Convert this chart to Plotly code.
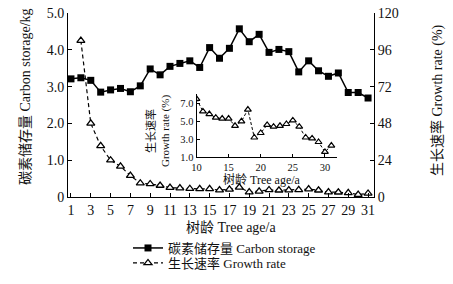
import plotly.graph_objects as go

ages = list(range(1, 32))
carbon_storage = [3.21, 3.24, 3.17, 2.85, 2.91, 2.95, 2.86, 3.02, 3.48, 3.32,
                  3.55, 3.63, 3.70, 3.52, 4.06, 3.77, 4.04, 4.57, 4.22, 4.42,
                  3.93, 4.01, 3.95, 3.40, 3.70, 3.43, 3.28, 3.37, 2.84, 2.84, 2.69]
growth_ages = list(range(2, 32))
growth_rate = [102, 48, 33.3, 24, 20, 14, 9, 8.5, 7.5, 6.1,
               5.8, 5.4, 5.3, 5.3, 4.5, 5.0, 6.3, 3.2, 3.7, 4.6,
               4.4, 4.5, 4.7, 5.1, 4.4, 3.2, 3.1, 2.7, 1.6, 2.3]
inset_start = 10
inset_ages = [a for a in growth_ages if a >= inset_start]
inset_rate = [r for a, r in zip(growth_ages, growth_rate) if a >= inset_start]

x_ticks = list(range(1, 32, 2))
y_left_ticks = [0, 1, 2, 3, 4, 5]
y_left_text = ["0", "1.0", "2.0", "3.0", "4.0", "5.0"]
y_right_ticks = [0, 24, 48, 72, 96, 120]
inset_x_ticks = [10, 15, 20, 25, 30]
inset_y_ticks = [1, 3, 5, 7]
inset_y_text = ["1.0", "3.0", "5.0", "7.0"]

FONT = "Liberation Serif, Noto Sans CJK SC, serif"
INK = "#111111"

W, H = 453, 284
L, R, T, B = 68, 79, 13, 87
pw, ph = W - L - R, H - T - B


def px(x):
    return (x - L) / pw


def py(y):
    return (H - B - y) / ph


fig = go.Figure()
fig.add_trace(go.Scatter(
    x=ages, y=carbon_storage, mode="lines+markers",
    name="碳素储存量 Carbon storage", legend="legend",
    line=dict(color="black", width=1.5),
    marker=dict(symbol="square", size=7, color="black"),
    xaxis="x", yaxis="y"))
fig.add_trace(go.Scatter(
    x=growth_ages, y=growth_rate, mode="lines+markers",
    name="生长速率 Growth rate", legend="legend2",
    line=dict(color="black", width=1.2, dash="4px,3px"),
    marker=dict(symbol="triangle-up", size=7, color="white",
                line=dict(color="black", width=1.3)),
    xaxis="x", yaxis="y2"))
fig.add_trace(go.Scatter(
    x=inset_ages, y=inset_rate, mode="lines+markers", showlegend=False,
    line=dict(color="black", width=1, dash="3px,2px"),
    marker=dict(symbol="triangle-up", size=6, color="white",
                line=dict(color="black", width=1.2)),
    xaxis="x3", yaxis="y3"))

axis_common = dict(showline=True, linecolor="black", linewidth=1, showgrid=False,
                   zeroline=False, ticks="inside", ticklen=4, tickcolor="black",
                   tickfont=dict(family=FONT, size=14, color=INK))
inset_axis = {**axis_common, "tickfont": dict(family=FONT, size=10.5, color=INK),
              "ticklen": 3}
legend_common = dict(xanchor="left", yanchor="middle",
                     font=dict(family=FONT, size=13, color=INK),
                     bgcolor="rgba(0,0,0,0)", itemwidth=30)

fig.update_layout(
    width=W, height=H,
    margin=dict(l=L, r=R, t=T, b=B, autoexpand=False),
    paper_bgcolor="white", plot_bgcolor="rgba(0,0,0,0)",
    font=dict(family=FONT, color=INK),
    xaxis=dict(range=[0.7, 31.6], tickvals=x_ticks, domain=[0, 1], **axis_common),
    yaxis=dict(range=[0, 5], tickvals=y_left_ticks, ticktext=y_left_text, **axis_common),
    yaxis2=dict(range=[0, 120], tickvals=y_right_ticks, overlaying="y", side="right",
                **axis_common),
    xaxis3=dict(range=[10, 31.8], tickvals=inset_x_ticks, anchor="y3",
                domain=[px(196.5), px(336.5)], **inset_axis),
    yaxis3=dict(range=[1, 8], tickvals=inset_y_ticks, ticktext=inset_y_text, anchor="x3",
                domain=[py(157.3), py(94.3)], **inset_axis),
    showlegend=True,
    legend=dict(x=px(128), y=py(248), **legend_common),
    legend2=dict(x=px(128), y=py(263), **legend_common),
)

annotations = [
    dict(text="碳素储存量 Carbon storage/kg", x=px(25), y=py(97), textangle=-90,
         font=dict(size=14)),
    dict(text="生长速率 Growth rate (%)", x=px(437), y=py(100), textangle=-90,
         font=dict(size=14)),
    dict(text="树龄 Tree age/a", x=px(231), y=py(227), font=dict(size=14)),
    dict(text="生长速率<br>Growth rate (%)", x=px(158), y=py(131), textangle=-90,
         font=dict(size=11)),
    dict(text="树龄 Tree age/a", x=px(262), y=py(179), font=dict(size=12)),
]
for a in annotations:
    a.update(xref="paper", yref="paper", showarrow=False, xanchor="center", yanchor="middle")
    a["font"].update(family=FONT, color=INK)
fig.update_layout(annotations=annotations)

fig.write_html("out.html", config={"displayModeBar": False},
               post_script="document.body.style.margin='0';document.body.style.overflow='hidden';")
